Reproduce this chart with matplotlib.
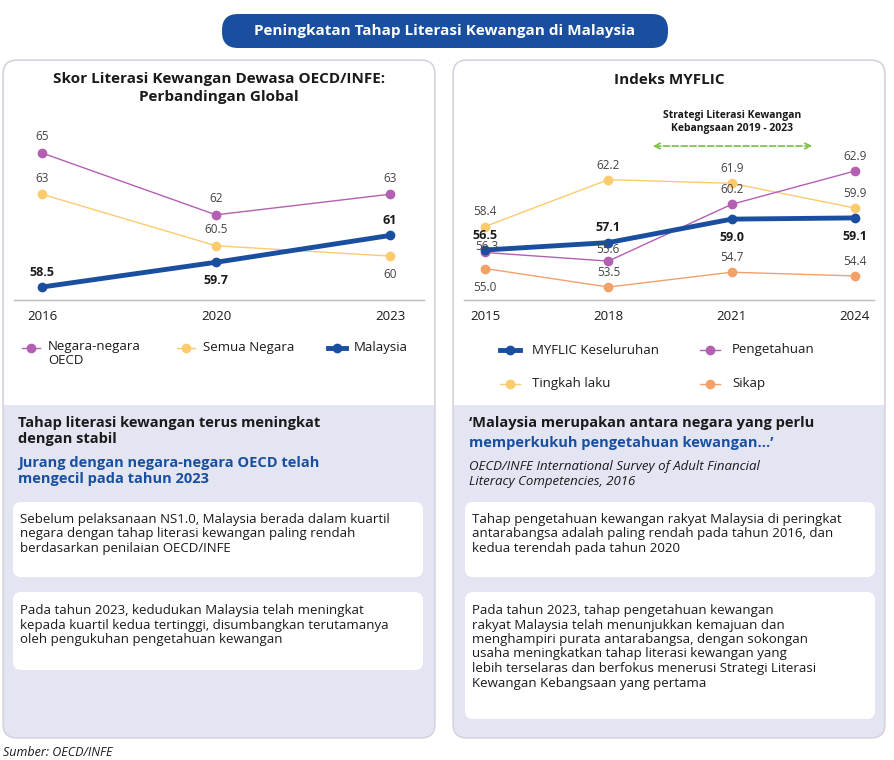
import matplotlib.pyplot as plt
from matplotlib.patches import FancyBboxPatch

plt.rcParams['font.family'] = ['Open Sans', 'DejaVu Sans']

# left chart data
left_years = ['2016', '2020', '2023']
oecd = [65, 62, 63]
semua = [63, 60.5, 60]
malaysia = [58.5, 59.7, 61]
oecd_lbl = ['65', '62', '63']
semua_lbl = ['63', '60.5', '60']
malaysia_lbl = ['58.5', '59.7', '61']

# right chart data
right_years = ['2015', '2018', '2021', '2024']
myflic = [56.5, 57.1, 59.0, 59.1]
pengetahuan = [56.3, 55.6, 60.2, 62.9]
tingkah = [58.4, 62.2, 61.9, 59.9]
sikap = [55.0, 53.5, 54.7, 54.4]

BLUE = '#1a4fa0'
PURPLE = '#b460b2'
YELLOW = '#fbcb6e'
ORANGE = '#f4a069'
LAV = '#e3e5f3'
TXT = '#1a1a1a'

W, H = 894, 760
fig = plt.figure(figsize=(W / 100, H / 100), dpi=100)
bg = fig.add_axes([0, 0, 1, 1])
bg.set_xlim(0, W)
bg.set_ylim(H, 0)
bg.axis('off')


def rbox(x, y, w, h, fc, ec='none', r=10, lw=1):
    bg.add_patch(FancyBboxPatch((x, y), w, h, boxstyle=f"round,pad=0,rounding_size={r}",
                                fc=fc, ec=ec, lw=lw))


# panels
for x0 in (3, 453):
    rbox(x0, 60, 432, 678, LAV, '#d0d0d8', r=14)
    bg.add_patch(FancyBboxPatch((x0 + 1, 61), 430, 344, boxstyle="round,pad=0,rounding_size=13",
                                fc='white', ec='none'))
    bg.add_patch(plt.Rectangle((x0 + 1, 380), 430, 25, fc='white', ec='none'))

rbox(222, 14, 446, 34, BLUE, r=16)
bg.text(445, 31, 'Peningkatan Tahap Literasi Kewangan di Malaysia', color='white',
        fontsize=11, fontweight='bold', ha='center', va='center')

bg.text(219, 88, 'Skor Literasi Kewangan Dewasa OECD/INFE:\nPerbandingan Global', fontsize=11,
        fontweight='bold', ha='center', va='center', color=TXT, linespacing=1.3)
bg.text(669, 80, 'Indeks MYFLIC', fontsize=11, fontweight='bold', ha='center', va='center', color=TXT)


def px_axes(x0, x1, y0, y1):
    return fig.add_axes([x0 / W, 1 - y1 / H, (x1 - x0) / W, (y1 - y0) / H])


# left chart
ax = px_axes(42, 390, 140, 300)
ax.set_xlim(0, 2)
ax.set_ylim(57.87, 65.63)
ax.axis('off')
xs = range(3)
ax.plot(xs, oecd, color=PURPLE, lw=1, marker='o', ms=6, clip_on=False)
ax.plot(xs, semua, color=YELLOW, lw=1, marker='o', ms=6, clip_on=False)
ax.plot(xs, malaysia, color=BLUE, lw=3.5, marker='o', ms=6, clip_on=False)
for i in xs:
    ax.annotate(oecd_lbl[i], (i, oecd[i]), xytext=(0, 9), textcoords='offset points', ha='center', fontsize=8.5, color='#444')
    off = -16 if i == 2 else 9
    ax.annotate(semua_lbl[i], (i, semua[i]), xytext=(0, off), textcoords='offset points', ha='center', fontsize=8.5, color='#444')
    off = -16 if i == 1 else 8
    ax.annotate(malaysia_lbl[i], (i, malaysia[i]), xytext=(0, off), textcoords='offset points', ha='center',
                fontsize=9, fontweight='bold', color=TXT)
bg.plot([14, 424], [300, 300], color='#bbbbbb', lw=1)
for i, y in enumerate(left_years):
    bg.text(42 + i * 174, 316, y, ha='center', va='center', fontsize=9.5, color=TXT)

# left legend
for lx, col, lw, lab in [(22, PURPLE, 1, 'Negara-negara\nOECD'), (177, YELLOW, 1, 'Semua Negara'),
                         (328, BLUE, 3.5, 'Malaysia')]:
    bg.plot([lx, lx + 18], [348, 348], color=col, lw=lw)
    bg.plot(lx + 9, 348, 'o', color=col, ms=6)
    if '\n' in lab:
        bg.text(lx + 26, 340, lab, va='top', fontsize=9.5, color=TXT, linespacing=1.1)
    else:
        bg.text(lx + 26, 348, lab, va='center', fontsize=9.5, color=TXT)

# right chart
ax2 = px_axes(485, 855, 140, 300)
ax2.set_xlim(0, 3)
ax2.set_ylim(52.45, 65.41)
ax2.axis('off')
xs = range(4)
ax2.plot(xs, tingkah, color=YELLOW, lw=1, marker='o', ms=6, clip_on=False)
ax2.plot(xs, sikap, color=ORANGE, lw=1, marker='o', ms=6, clip_on=False)
ax2.plot(xs, pengetahuan, color=PURPLE, lw=1, marker='o', ms=6, clip_on=False)
ax2.plot(xs, myflic, color=BLUE, lw=3.5, marker='o', ms=6, clip_on=False)
peng_off = [(0, -3, 'left'), (0, 6, 'center'), (0, 8, 'center'), (0, 8, 'center')]
for i in xs:
    ax2.annotate(f'{tingkah[i]:.1f}', (i, tingkah[i]), xytext=(0, 8), textcoords='offset points', ha='center', fontsize=8.5, color='#444')
    dx, dy, ha = peng_off[i]
    if i == 0:
        ax2.annotate(f'{pengetahuan[i]:.1f}', (i, pengetahuan[i]), xytext=(-7, 4), textcoords='offset points',
                     ha='left', va='center', fontsize=8.5, color='#444')
    else:
        ax2.annotate(f'{pengetahuan[i]:.1f}', (i, pengetahuan[i]), xytext=(dx, dy), textcoords='offset points', ha=ha, fontsize=8.5, color='#444')
    off = -16 if i == 0 else 8
    ax2.annotate(f'{sikap[i]:.1f}', (i, sikap[i]), xytext=(0, off), textcoords='offset points', ha='center', fontsize=8.5, color='#444')
    off = 8 if i < 2 else -16
    ax2.annotate(f'{myflic[i]:.1f}', (i, myflic[i]), xytext=(0, off), textcoords='offset points', ha='center',
                 fontsize=9, fontweight='bold', color=TXT)
bg.plot([464, 874], [300, 300], color='#bbbbbb', lw=1)
for i, y in enumerate(right_years):
    bg.text(485 + i * 123.3, 316, y, ha='center', va='center', fontsize=9.5, color=TXT)

bg.annotate('', xy=(815, 146), xytext=(650, 146),
            arrowprops=dict(arrowstyle='<->', color='#7dbf3f', lw=1.2, ls='--'))
bg.text(732, 122, 'Strategi Literasi Kewangan\nKebangsaan 2019 - 2023', ha='center', va='center',
        fontsize=7.5, fontweight='bold', color=TXT, linespacing=1.2)

for lx, ly, col, lw, lab in [(500, 350, BLUE, 3.5, 'MYFLIC Keseluruhan'), (700, 350, PURPLE, 1, 'Pengetahuan'),
                             (500, 384, YELLOW, 1, 'Tingkah laku'), (700, 384, ORANGE, 1, 'Sikap')]:
    bg.plot([lx, lx + 20], [ly, ly], color=col, lw=lw)
    bg.plot(lx + 10, ly, 'o', color=col, ms=6)
    bg.text(lx + 32, ly, lab, va='center', fontsize=9.5, color=TXT)

# bottom left
bg.text(18, 416, 'Tahap literasi kewangan terus meningkat\ndengan stabil', fontsize=10.5, fontweight='bold',
        va='top', color=TXT, linespacing=1.15)
bg.text(18, 456, 'Jurang dengan negara-negara OECD telah\nmengecil pada tahun 2023', fontsize=10.5,
        fontweight='bold', va='top', color=BLUE, linespacing=1.15)
rbox(13, 502, 410, 75, 'white', r=8)
bg.text(20, 513, 'Sebelum pelaksanaan NS1.0, Malaysia berada dalam kuartil\nnegara dengan tahap literasi kewangan paling rendah\nberdasarkan penilaian OECD/INFE',
        fontsize=9.5, va='top', color=TXT, linespacing=1.15)
rbox(13, 592, 410, 78, 'white', r=8)
bg.text(20, 604, 'Pada tahun 2023, kedudukan Malaysia telah meningkat\nkepada kuartil kedua tertinggi, disumbangkan terutamanya\noleh pengukuhan pengetahuan kewangan',
        fontsize=9.5, va='top', color=TXT, linespacing=1.15)

# bottom right
bg.text(469, 416, '\u2018Malaysia merupakan antara negara yang perlu', fontsize=10.5, fontweight='bold',
        va='top', color=TXT)
bg.text(469, 436, 'memperkukuh pengetahuan kewangan...\u2019', fontsize=10.5, fontweight='bold',
        va='top', color=BLUE)
bg.text(469, 460, 'OECD/INFE International Survey of Adult Financial\nLiteracy Competencies, 2016', fontsize=9.5,
        style='italic', va='top', color=TXT, linespacing=1.15)
rbox(465, 502, 410, 75, 'white', r=8)
bg.text(472, 513, 'Tahap pengetahuan kewangan rakyat Malaysia di peringkat\nantarabangsa adalah paling rendah pada tahun 2016, dan\nkedua terendah pada tahun 2020',
        fontsize=9.5, va='top', color=TXT, linespacing=1.15)
rbox(465, 592, 410, 127, 'white', r=8)
bg.text(472, 604, 'Pada tahun 2023, tahap pengetahuan kewangan\nrakyat Malaysia telah menunjukkan kemajuan dan\nmenghampiri purata antarabangsa, dengan sokongan\nusaha meningkatkan tahap literasi kewangan yang\nlebih terselaras dan berfokus menerusi Strategi Literasi\nKewangan Kebangsaan yang pertama',
        fontsize=9.5, va='top', color=TXT, linespacing=1.15)

bg.text(3, 752, 'Sumber: OECD/INFE', fontsize=9, style='italic', va='center', color=TXT)

fig.savefig('out.png', dpi=100)
